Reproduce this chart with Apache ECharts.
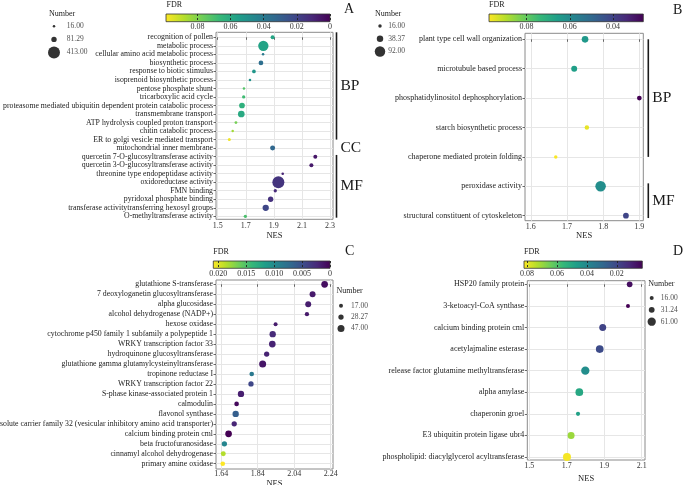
<!DOCTYPE html>
<html><head><meta charset="utf-8">
<script src="https://cdn.jsdelivr.net/npm/echarts@6/dist/echarts.min.js"></script>
<style>html,body{margin:0;padding:0;background:#fff}#c{width:685px;height:485px}</style>
</head><body><div id="c"></div>
<script>
// ---------------- DATA ----------------
// Panel A
const catsA = ['recognition of pollen','metabolic process','cellular amino acid metabolic process','biosynthetic process','response to biotic stimulus','isoprenoid biosynthetic process','pentose phosphate shunt','tricarboxylic acid cycle','proteasome mediated ubiquitin dependent protein catabolic process','transmembrane transport','ATP hydrolysis coupled proton transport','chitin catabolic process','ER to golgi vesicle mediated transport','mitochondrial inner membrane','quercetin 7-O-glucosyltransferase activity','quercetin 3-O-glucosyltransferase activity','threonine type endopeptidase activity','oxidoreductase activity','FMN binding','pyridoxal phosphate binding','transferase activitytransferring hexosyl groups','O-methyltransferase activity'];
const nesA = [1.891,1.825,1.823,1.808,1.758,1.730,1.687,1.685,1.673,1.668,1.630,1.607,1.583,1.891,2.195,2.167,1.963,1.932,1.910,1.877,1.842,1.697];
const fdrA = [0.058,0.057,0.040,0.036,0.052,0.050,0.072,0.068,0.063,0.060,0.078,0.085,0.097,0.033,0.006,0.007,0.010,0.015,0.012,0.014,0.021,0.070];
const numA = [44,304,16,62,37,17,16,29,92,127,21,16,24,70,44,44,17,413,29,79,112,29];
const nesTicksA = [1.5,1.7,1.9,2.1,2.3];
const fdrTicksA = [0.08,0.06,0.04,0.02,0];
const fdrRangeA = [0,0.099];
const legendA = [16,81.29,413];
const groupsA = ['BP','CC','MF'];

// Panel B
const catsB = ['plant type cell wall organization','microtubule based process','phosphatidylinositol dephosphorylation','starch biosynthetic process','chaperone mediated protein folding','peroxidase activity','structural constituent of cytoskeleton'];
const nesB = [1.750,1.720,1.900,1.755,1.669,1.793,1.863];
const fdrB = [0.064,0.066,0.026,0.095,0.097,0.061,0.041];
const numB = [41,34,24,22,16,92,32];
const nesTicksB = [1.6,1.7,1.8,1.9];
const fdrTicksB = [0.08,0.06,0.04];
const fdrRangeB = [0.026,0.0974];
const legendB = [16,38.37,92];
const groupsB = ['BP','MF'];

// Panel C
const catsC = ['glutathione S-transferase','7 deoxyloganetin glucosyltransferase','alpha glucosidase','alcohol dehydrogenase (NADP+)','hexose oxidase','cytochrome p450 family 1 subfamily a polypeptide 1','WRKY transcription factor 33','hydroquinone glucosyltransferase','glutathione gamma glutamylcysteinyltransferase','tropinone reductase I','WRKY transcription factor 22','S-phase kinase-associated protein 1','calmodulin','flavonol synthase','solute carrier family 32 (vesicular inhibitory amino acid transporter)','calcium binding protein cml','beta fructofuranosidase','cinnamyl alcohol dehydrogenase','primary amine oxidase'];
const nesC = [2.207,2.141,2.117,2.110,1.938,1.922,1.920,1.889,1.867,1.807,1.803,1.748,1.724,1.719,1.711,1.680,1.657,1.651,1.648];
const fdrC = [0.0008,0.0015,0.0017,0.0015,0.0016,0.0025,0.0020,0.0020,0.0012,0.0085,0.0045,0.0018,0.0005,0.0063,0.0022,0.0000,0.0095,0.0185,0.0209];
const numC = [43,35,35,19,17,39,43,28,47,22,28,39,22,39,28,43,28,25,22];
const nesTicksC = [1.64,1.84,2.04,2.24];
const fdrTicksC = [0.020,0.015,0.010,0.005,0];
const fdrRangeC = [0,0.0209];
const legendC = [17,28.27,47];

// Panel D
const catsD = ['HSP20 family protein','3-ketoacyl-CoA synthase','calcium binding protein cml','acetylajmaline esterase','release factor glutamine methyltransferase','alpha amylase','chaperonin groel','E3 ubiquitin protein ligase ubr4','phospholipid: diacylglycerol acyltransferase'];
const nesD = [2.036,2.027,1.892,1.876,1.799,1.767,1.760,1.723,1.701];
const fdrD = [0.006,0.003,0.019,0.021,0.042,0.050,0.048,0.070,0.081];
const numD = [30,16,44,53,61,53,17,44,57];
const nesTicksD = [1.5,1.7,1.9,2.1];
const fdrTicksD = [0.08,0.06,0.04,0.02];
const fdrRangeD = [0.003,0.082];
const legendD = [16,31.24,61];

// ---------------- LAYOUT ----------------
const FONT = '"Liberation Serif","Times New Roman",serif';
const VIR = ['#440154','#482878','#3e4989','#31688e','#26828e','#1f9e89','#35b779','#6ece58','#b5de2b','#fde725'];

const panels = [
  {cats:catsA,nes:nesA,fdr:fdrA,num:numA,nesTicks:nesTicksA,fdrTicks:fdrTicksA,fdrRange:fdrRangeA,legend:legendA,
   L:{box:[216,32.3,333,219.3],x:[1.488,2.321],y:[-0.587,21.35],dec:1,labMargin:3,nameGap:11.5,catFont:7.8,
      bar:[166,14,330,21.7],barMargin:1.5,fdrDec:2,fdrTitle:[166.5,5.5],numTitle:[49,14],
      legX:[54,66.3],legY:[26.3,52.5],size:[2.5,12],letter:['A',344,10],
      brackets:{labels:groupsA,spans:[[-0.587,12],[13,13],[13.8,21.16]],off:3.5}}},
  {cats:catsB,nes:nesB,fdr:fdrB,num:numB,nesTicks:nesTicksB,fdrTicks:fdrTicksB,fdrRange:fdrRangeB,legend:legendB,
   L:{box:[525,33.3,643.3,220.7],x:[1.584,1.911],y:[-0.204,6.17],dec:1,labMargin:2,nameGap:10.8,catFont:8,
      bar:[489,14,643.3,21.7],barMargin:0.8,fdrDec:2,fdrTitle:[489,5.5],numTitle:[375,14],
      legX:[380,387.7],legY:[26,51.5],size:[3.5,10.5],letter:['B',673,11],
      brackets:{labels:groupsB,spans:[[0,4],[4.9,6.08]],off:5}}},
  {cats:catsC,nes:nesC,fdr:fdrC,num:numC,nesTicks:nesTicksC,fdrTicks:fdrTicksC,fdrRange:fdrRangeC,legend:legendC,
   L:{box:[216,280,333,469],x:[1.611,2.253],y:[-0.43,18.53],dec:2,labMargin:1,nameGap:4.8,catFont:7.8,
      bar:[213.3,261,330,268.3],barMargin:2,fdrDec:3,fdrTitle:[213.3,252.5],numTitle:[336.5,291.5],
      legX:[341,350.5],legY:[305.7,328.5],size:[4,7],letter:['C',345,251.7]}},
  {cats:catsD,nes:nesD,fdr:fdrD,num:numD,nesTicks:nesTicksD,fdrTicks:fdrTicksD,fdrRange:fdrRangeD,legend:legendD,
   L:{box:[527.3,280.7,645,460],x:[1.489,2.118],y:[-0.167,8.14],dec:1,labMargin:2,nameGap:14.3,catFont:8,
      bar:[524,261,642.3,268.3],barMargin:2,fdrDec:2,fdrTitle:[524,252.5],numTitle:[648.3,284.5],
      legX:[651.7,660.3],legY:[298,321.7],size:[4,8.3],letter:['D',673,251.7]}}
];

function sizeFn(p, n){
  const lo = Math.min(...p.legend), hi = Math.max(...p.legend);
  const [d0,d1] = p.L.size;
  const t = Math.max(0,Math.min(1,(n-lo)/(hi-lo)));
  return Math.sqrt(d0*d0 + (d1*d1-d0*d0)*t);
}

const grids=[], xAxes=[], yAxes=[], series=[], visualMaps=[], graphics=[];
const txt = (size, color) => ({fontFamily:FONT,fontSize:size,color:color||'#333'});

panels.forEach((p,k)=>{
  const L = p.L;
  const gi = grids.length;
  grids.push({left:L.box[0],top:L.box[1],width:L.box[2]-L.box[0],height:L.box[3]-L.box[1],
    show:true,borderColor:'#8a8a8a',borderWidth:1,backgroundColor:'transparent',containLabel:false,outerBoundsMode:'none'});
  xAxes.push({type:'value',gridIndex:gi,min:L.x[0],max:L.x[1],
    axisLine:{show:false},
    axisTick:{show:true,customValues:p.nesTicks,length:2.5,lineStyle:{color:'#444',width:0.8}},
    axisLabel:{show:true,customValues:p.nesTicks,margin:L.labMargin,...txt(8,'#333'),formatter:v=>v.toFixed(L.dec)},
    splitLine:{show:true,lineStyle:{color:'#e6e6e6',width:1}},
    name:'NES',nameLocation:'middle',nameGap:L.nameGap,nameTextStyle:txt(8.5,'#222')});
  const idx = p.cats.map((c,i)=>i);
  yAxes.push({type:'value',gridIndex:gi,inverse:true,min:L.y[0],max:L.y[1],
    axisLine:{show:false},
    axisTick:{show:true,customValues:idx,length:2.5,lineStyle:{color:'#444',width:0.8}},
    axisLabel:{show:true,customValues:idx,margin:3,...txt(L.catFont,'#222'),formatter:v=>p.cats[Math.round(v)]},
    splitLine:{show:true,lineStyle:{color:'#e6e6e6',width:1}}});
  const si = series.length;
  series.push({type:'scatter',xAxisIndex:gi,yAxisIndex:gi,silent:true,
    data:p.cats.map((c,i)=>[p.nes[i],i,p.fdr[i],p.num[i]]),
    symbolSize:v=>sizeFn(p,v[3]),itemStyle:{opacity:1},z:5});
  visualMaps.push({type:'continuous',show:false,seriesIndex:si,dimension:2,
    min:p.fdrRange[0],max:p.fdrRange[1],inRange:{color:VIR}});
  if (L.brackets){
    const B = L.brackets;
    series.push({type:'custom',xAxisIndex:gi,yAxisIndex:gi,clip:false,silent:true,z:6,
      data:B.spans.map(s=>[s[0],s[1]]),
      renderItem:(params,api)=>{
        const cs = params.coordSys;
        const x = cs.x+cs.width+B.off;
        const y1 = api.coord([L.x[0],api.value(0)])[1];
        const y2 = api.coord([L.x[0],api.value(1)])[1];
        const ch = [];
        if (Math.abs(y2-y1)>0.5) ch.push({type:'line',shape:{x1:x,y1:y1,x2:x,y2:y2},style:{stroke:'#1a1a1a',lineWidth:1.6}});
        ch.push({type:'text',style:{text:B.labels[params.dataIndex],x:x+4,y:(y1+y2)/2,fontFamily:FONT,fontSize:15.5,fill:'#1a1a1a',align:'left',verticalAlign:'middle'}});
        return {type:'group',children:ch};
      }});
  }
  const bi = grids.length;
  const stops = VIR.slice().reverse().map((c,i,a)=>({offset:i/(a.length-1),color:c}));
  grids.push({left:L.bar[0],top:L.bar[1],width:L.bar[2]-L.bar[0],height:L.bar[3]-L.bar[1],
    show:true,borderColor:'#333',borderWidth:0.8,backgroundColor:new echarts.graphic.LinearGradient(0,0,1,0,stops),containLabel:false,outerBoundsMode:'none'});
  xAxes.push({type:'value',gridIndex:bi,inverse:true,min:p.fdrRange[0],max:p.fdrRange[1],
    axisLine:{show:false},axisTick:{show:false,customValues:p.fdrTicks},
    axisLabel:{show:true,customValues:p.fdrTicks,margin:L.barMargin,...txt(8,'#333'),formatter:v=>Math.abs(v)<1e-9?'0':v.toFixed(L.fdrDec)},
    splitLine:{show:true,lineStyle:{color:'#222',width:0.9,type:[2,2]}}});
  yAxes.push({type:'value',gridIndex:bi,show:false,min:0,max:1,splitLine:{show:false}});
  const li = grids.length;
  grids.push({left:L.legX[0],top:L.legY[0],width:L.legX[1]-L.legX[0],height:L.legY[1]-L.legY[0],show:false,containLabel:false,outerBoundsMode:'none'});
  xAxes.push({type:'value',gridIndex:li,show:false,min:0,max:1,splitLine:{show:false}});
  yAxes.push({type:'value',gridIndex:li,show:false,inverse:true,min:0,max:p.legend.length-1,splitLine:{show:false}});
  series.push({type:'scatter',xAxisIndex:li,yAxisIndex:li,silent:true,
    data:p.legend.map((v,i)=>[0,i,v]),symbolSize:v=>sizeFn(p,v[2]),itemStyle:{color:'#000'}});
  series.push({type:'scatter',xAxisIndex:li,yAxisIndex:li,silent:true,
    data:p.legend.map((v,i)=>[1,i,v]),symbolSize:1,itemStyle:{color:'rgba(0,0,0,0)'},
    label:{show:true,position:'right',distance:0,formatter:q=>q.value[2].toFixed(2),...txt(7.5,'#222')}});
  graphics.push({type:'text',left:L.fdrTitle[0],top:L.fdrTitle[1]-4.5,style:{text:'FDR',fontFamily:FONT,fontSize:8,fill:'#222'}});
  graphics.push({type:'text',left:L.numTitle[0],top:L.numTitle[1]-4.5,style:{text:'Number',fontFamily:FONT,fontSize:8,fill:'#222'}});
  graphics.push({type:'text',left:L.letter[1],top:L.letter[2]-7.5,style:{text:L.letter[0],fontFamily:FONT,fontSize:14,fill:'#1a1a1a'}});
});

const chart = echarts.init(document.getElementById('c'),null,{renderer:'canvas'});
chart.setOption({
  animation:false,backgroundColor:'#fff',
  grid:grids,xAxis:xAxes,yAxis:yAxes,visualMap:visualMaps,series:series,graphic:graphics
});
</script></body></html>
